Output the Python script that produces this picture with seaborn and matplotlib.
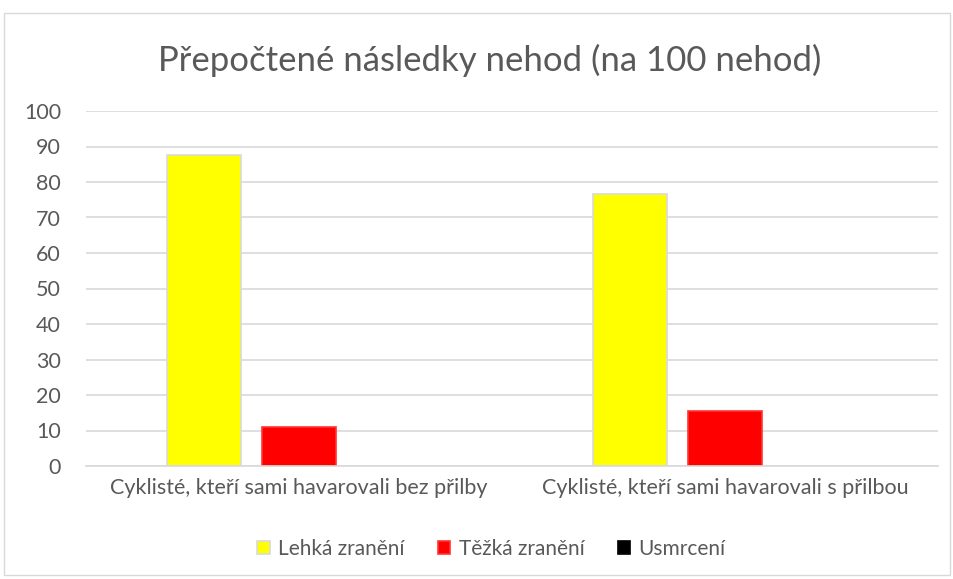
import pandas as pd
import matplotlib.pyplot as plt
import seaborn as sns
from matplotlib.patches import Rectangle, Patch

categories = ["Cyklisté, kteří sami havarovali bez přilby",
              "Cyklisté, kteří sami havarovali s přilbou"]
series = ["Lehká zranění", "Těžká zranění", "Usmrcení"]
lehka = [87.5, 76.5]
tezka = [11.0, 15.5]
usmrceni = [0.0, 0.0]
colors = ["#ffff00", "#ff0000", "#000000"]
edges = ["#d9d9d9", "#ff3333", "#000000"]

df = pd.DataFrame({
    "kategorie": categories * 3,
    "serie": [s for s in series for _ in categories],
    "hodnota": lehka + tezka + usmrceni,
})

sns.set_theme(style="white")
plt.rcParams["font.family"] = ["Lato", "DejaVu Sans"]
text_col = "#595959"

fig = plt.figure(figsize=(9.54, 5.79), dpi=100)
ax = fig.add_axes([86 / 954, 1 - 466 / 579, (938 - 86) / 954, (466 - 111) / 579])

sns.barplot(data=df, x="kategorie", y="hodnota", hue="serie", hue_order=series,
            palette=colors, saturation=1, width=0.67, gap=0.22, ax=ax, legend=False)

for cont, ec in zip(ax.containers, edges):
    for bar in cont:
        bar.set_edgecolor(ec)
        bar.set_linewidth(1.2)
        if bar.get_height() == 0:
            bar.set_visible(False)

ax.set_ylim(0, 100)
ax.set_yticks(range(0, 101, 10))
ax.set_xlim(-0.5, 1.5)
ax.grid(axis="y", color="#d9d9d9", linewidth=1.2)
ax.set_axisbelow(True)
for side in ["top", "right", "left"]:
    ax.spines[side].set_visible(False)
ax.spines["bottom"].set_color("#d9d9d9")
ax.spines["bottom"].set_linewidth(1.2)
ax.tick_params(axis="both", length=0, colors=text_col, labelsize=15.5)
ax.tick_params(axis="y", pad=18)
ax.tick_params(axis="x", pad=9)
ax.set_xlabel("")
ax.set_ylabel("")

fig.text(0.513, 1 - 60 / 579, "Přepočtené následky nehod (na 100 nehod)",
         ha="center", va="center", fontsize=25, color=text_col)

handles = [Patch(facecolor=c, edgecolor=e, linewidth=1.2) for c, e in zip(colors, edges)]
leg = fig.legend(handles, series, loc="center", bbox_to_anchor=(0.515, 1 - 549 / 579),
                 ncol=3, frameon=False, fontsize=15, handlelength=0.6,
                 handleheight=0.6, handletextpad=0.4, columnspacing=1.6)
for t in leg.get_texts():
    t.set_color(text_col)

fig.patches.append(Rectangle((4 / 954, 4 / 579), 946 / 954, 562 / 579,
                             transform=fig.transFigure, fill=False,
                             edgecolor="#d9d9d9", linewidth=1))

fig.savefig("out.png", dpi=100)
